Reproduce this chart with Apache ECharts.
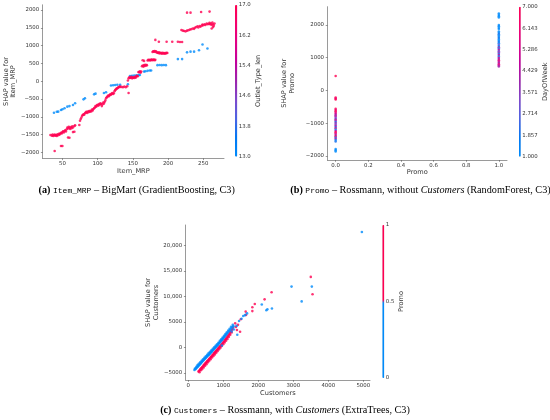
<!DOCTYPE html>
<html>
<head>
<meta charset="utf-8">
<script src="https://cdn.jsdelivr.net/npm/echarts@6/dist/echarts.min.js"></script>
<style>
  html, body { margin: 0; padding: 0; background: #fff; }
  #chart { width: 550px; height: 420px; }
</style>
</head>
<body>
<div id="chart"></div>
<script>
// (a) BigMart: Item_MRP against its SHAP value, coloured by Outlet_Type_len
// Outlet_Type_len = 13 ("Grocery Store")
const mrpGrocery = [
  [38,-885],[42,-860],[44,-855],[48,-810],[50,-790],[53,-760],[57,-715],[60,-700],[65,-670],[68,-620],
  [80,-510],[82,-480],
  [95,-370],[97,-350],[109,-330],[112,-310],
  [119,-120],[122,-115],[125,-105],[128,-100],[132,-100],[143,-85],
  [146,145],[149,150],[152,160],[155,165],[158,170],[160,175],
  [166,270],[168,280],[171,290],[174,300],[176,300],
  [185,450],[188,455],[191,450],[194,455],[197,450],
  [214,620],[220,620],
  [227,810],[232,830],[237,830],[244,870],[249,1030],[256,920]
];
// Outlet_Type_len = 17 ("Supermarket TypeN")
const mrpSupermarket = [
  [33,-1510],[35,-1530],[36,-1500],[37,-1540],[38,-1520],[39,-1500],[40,-1530],[41,-1510],[42,-1540],[43,-1490],
  [44,-1520],[45,-1480],[46,-1500],[47,-1470],[48,-1450],[49,-1470],[50,-1430],[51,-1410],[52,-1440],[53,-1400],
  [54,-1380],[55,-1410],[56,-1350],[57,-1300],[58,-1330],[59,-1280],[60,-1310],[61,-1340],[62,-1290],[63,-1320],
  [64,-1270],[65,-1300],[67,-1260],[68,-1240],
  [39,-1960],[48,-1820],[50,-1820],[58,-1580],[60,-1590],[65,-1430],[67,-1420],
  [74,-1230],[75,-1110],[76,-1060],[77,-1020],[78,-970],[79,-950],[80,-930],[81,-940],[82,-900],[83,-880],
  [84,-860],[85,-890],[86,-850],[87,-870],[88,-840],[89,-860],[90,-830],[91,-850],[92,-800],[93,-820],
  [94,-780],[95,-760],
  [96,-740],[97,-700],[98,-720],[99,-680],[100,-660],[101,-690],[102,-640],[103,-660],[104,-620],[105,-640],
  [106,-700],[107,-650],[108,-600],[109,-630],[110,-580],[111,-540],
  [112,-480],[113,-450],[114,-430],[115,-400],[116,-420],[117,-390],[118,-370],[119,-380],[120,-350],[121,-330],
  [122,-360],[123,-340],[124,-280],[125,-250],[126,-230],[127,-210],[128,-200],[129,-180],[130,-170],[131,-150],
  [132,-160],[134,-160],[136,-170],[138,-150],[140,-170],[142,-140],[144,-330],
  [143,20],[144,80],[145,110],[146,90],[147,100],[148,120],[149,80],[150,100],[151,110],[152,90],
  [153,120],[154,100],[155,130],[156,150],[157,140],[158,260],
  [159,250],[160,280],[161,240],[162,270],[163,420],[164,440],[165,410],[166,450],[167,430],[168,460],
  [169,440],[170,450],[164,590],[166,570],[171,580],[172,600],
  [173,590],[174,600],[175,580],[176,600],[177,610],[178,590],[179,600],[180,610],[181,590],[182,600],
  [178,820],[179,840],[180,830],[181,850],[182,820],[183,840],[184,810],[185,800],[186,790],[187,810],
  [188,780],[189,800],[190,790],[191,770],[192,800],[193,780],[194,790],[195,770],[196,790],[197,780],
  [198,800],[199,790],
  [182,1160],[187,1110],[198,1110],[206,1110],[214,1110],[217,1100],[220,1100],
  [227,1925],[232,1925],[247,1945],[259,1955],
  [219,1440],[221,1420],[223,1410],[225,1400],[227,1420],[229,1430],[231,1450],[233,1460],[235,1480],[237,1470],
  [238,1500],[240,1520],[242,1540],[243,1510],[245,1550],[246,1530],[248,1560],[249,1590],[250,1570],[252,1600],
  [253,1580],[255,1620],[256,1600],[258,1610],[259,1640],[260,1600],[261,1620],[262,1580],[263,1650],[264,1600],
  [265,1560],[262,1480],[264,1520],[266,1620]
];
const mrpTicks = [50, 100, 150, 200, 250];
const mrpShapTicks = [-2000, -1500, -1000, -500, 0, 500, 1000, 1500, 2000];
const outletLenTicks = [13.0, 13.8, 14.6, 15.4, 16.2, 17.0];

// (b) Rossmann without Customers: Promo against its SHAP value, [shap, DayOfWeek]
const promoOff = [
  [440,7],[-220,7],[-250,6],[-280,7],
  [-560,7],[-600,6],[-640,7],[-680,6],[-720,5],[-760,4],[-800,5],[-840,3],[-880,4],[-920,5],
  [-960,2],[-1000,4],[-1040,3],[-1080,5],[-1120,2],[-1160,6],[-1200,1],[-1240,5],[-1280,7],[-1320,6],
  [-1360,4],[-1400,7],[-1440,2],[-1480,5],[-1520,1],[-1560,2],
  [-1790,1],[-1830,1],[-1870,1]
];
const promoOn = [
  [2350,1],[2310,1],[2270,1],[2230,1],[2000,1],[1960,1],[1920,1],[1880,1],
  [1800,1],[1760,1],[1720,2],[1680,1],[1640,1],[1600,2],[1560,1],[1520,1],[1480,2],[1440,1],
  [1400,3],[1360,1],[1320,4],[1280,2],[1240,5],[1200,3],[1160,4],[1120,2],[1080,5],[1040,1],
  [1000,5],[960,4],[920,6],[880,5],[840,4],[800,6],[760,5],[730,4]
];
const promoTicks = [0, 0.2, 0.4, 0.6, 0.8, 1.0];
const promoShapTicks = [-2000, -1000, 0, 1000, 2000];
const dayTicks = [1.000, 1.857, 2.714, 3.571, 4.429, 5.286, 6.143, 7.000];

// (c) Rossmann with Customers: Customers against its SHAP value
// Promo = 0
const custNoPromo = [
  [175,-4450],[200,-4300],[215,-4150],[235,-4050],[250,-3900],[270,-3800],[285,-3650],[300,-3550],
  [320,-3400],[335,-3300],[350,-3150],[370,-3050],[385,-2900],[400,-2800],[420,-2650],[435,-2550],
  [450,-2400],[470,-2300],[485,-2150],[500,-2050],[520,-1900],[535,-1800],[550,-1700],[570,-1550],
  [585,-1450],[600,-1350],[620,-1200],[635,-1100],[650,-950],[670,-850],[685,-700],[700,-600],
  [720,-450],[735,-350],[750,-200],[770,-100],[785,50],[800,150],[820,300],[835,400],
  [850,550],[870,700],[885,850],[900,950],[920,1100],[935,1250],[950,1400],[970,1500],
  [985,1650],[1000,1800],[1020,1950],[1040,2100],[1060,2300],[1080,2450],[1100,2650],[1120,2800],
  [1150,3050],[1170,3250],[1200,3450],[1230,3700],[1260,3950],[1290,4150],
  [190,-4150],[230,-3800],[265,-3500],[300,-3250],[340,-2950],[380,-2650],[420,-2350],[460,-2050],
  [500,-1750],[540,-1450],[580,-1150],[620,-900],[660,-600],[700,-300],[740,0],[780,300],
  [820,600],[860,900],[900,1250],[940,1550],[980,1900],[1020,2250],[1060,2600],[1100,2950],
  [1140,3300],[1180,3650],[1220,4000],[1270,4400],
  [4960,22600],[2950,11900],[3530,11900],[3240,9000],[2100,8400],[2230,7250],[2260,7450],[2390,7600],
  [1620,6300],[1680,6650],[1570,6150],[1520,5600],[1400,2450],[960,350],[1380,4200],[1300,3500],
  [1450,5150],[1240,3100]
];
// Promo = 1
const custPromo = [
  [290,-4750],[310,-4600],[330,-4450],[345,-4300],[360,-4150],[380,-4050],[395,-3900],[410,-3800],
  [430,-3650],[445,-3500],[460,-3400],[480,-3250],[495,-3100],[510,-3000],[530,-2850],[545,-2700],
  [560,-2600],[580,-2450],[595,-2300],[610,-2200],[630,-2050],[645,-1900],[660,-1800],[680,-1650],
  [695,-1500],[710,-1400],[730,-1250],[745,-1100],[760,-1000],[780,-850],[795,-700],[810,-600],
  [830,-450],[845,-300],[860,-200],[880,-50],[895,100],[910,200],[930,350],[945,500],
  [960,650],[980,800],[1000,1000],[1020,1150],[1040,1350],[1060,1550],[1080,1700],[1100,1900],
  [1120,2100],[1140,2300],[1160,2500],[1180,2700],[1200,2950],[1220,3150],[1240,3400],[1260,3600],
  [320,-4900],[360,-4500],[400,-4250],[440,-3950],[480,-3600],[520,-3300],[560,-2950],[600,-2650],
  [640,-2350],[680,-2000],[720,-1700],[760,-1400],[800,-1050],[840,-750],[880,-400],[920,-100],
  [960,250],[1000,600],[1040,950],[1080,1300],[1120,1650],[1160,2050],[1200,2450],[1240,2900],
  [3500,13800],[3550,10400],[2380,10800],[2180,9400],[1900,8500],[1830,7850],[1830,7100],[1640,7000],
  [1650,6350],[1500,5500],[1340,4700],[1480,3050],[1360,4000],[1420,4400],[1280,3900],[1390,3400]
];
const customerTicks = [0, 1000, 2000, 3000, 4000, 5000];
const customerShapTicks = [-5000, 0, 5000, 10000, 15000, 20000];
const promoBarTicks = [0, 0.5, 1];

// shap red_blue colormap, sampled
const redBlue = ['#008bfb', '#0078f3', '#4b63e3', '#7d49cc', '#9c23ac', '#c2009c', '#e00086', '#f5006d', '#ff0051'];
const twoColour = Array.from({ length: 60 }, (_, i) => (i < 30 ? '#008bfb' : '#ff0051'));

const sans = 'DejaVu Sans';
const ink = '#333333';
const spine = '#555555';
const dot = 2.6;

function minus(s) { return String(s).replace('-', '\u2212'); }
function withComma(v) { return minus(Math.abs(v) >= 10000 ? v.toLocaleString('en-US') : v); }

function plotAxis(o) {
  return {
    type: 'value', gridIndex: o.grid, min: o.min, max: o.max,
    name: o.name, nameLocation: 'middle', nameGap: o.nameGap, nameRotate: o.nameRotate,
    nameTextStyle: { fontFamily: sans, fontSize: 6.6, color: ink, lineHeight: 7.2 },
    axisLine: { show: true, onZero: false, lineStyle: { color: spine, width: 0.6 } },
    axisTick: { show: true, length: 1.8, customValues: o.ticks, lineStyle: { color: spine, width: 0.6 } },
    axisLabel: { customValues: o.ticks, formatter: o.fmt, fontFamily: sans, fontSize: 5.4, color: ink, margin: o.margin },
    splitLine: { show: false }
  };
}

function barAxis(o) {
  return {
    type: 'value', gridIndex: o.grid, position: 'right', min: o.min, max: o.max,
    name: o.name, nameLocation: 'middle', nameRotate: 90, nameGap: o.nameGap,
    nameTextStyle: { fontFamily: sans, fontSize: 6.6, color: ink },
    axisLine: { show: false }, axisTick: { show: false }, splitLine: { show: false },
    axisLabel: { customValues: o.ticks, formatter: o.fmt, fontFamily: sans, fontSize: 5.4, color: ink, margin: 1.5 }
  };
}

function hiddenX(grid) {
  return { type: 'value', gridIndex: grid, show: false, min: 0, max: 1 };
}

const grids = [
  { left: 42.7, top: 4.8, width: 181.3, height: 153.5 },
  { left: 327.5, top: 6.7, width: 179.5, height: 153.3 },
  { left: 185.7, top: 225, width: 184.3, height: 155 },
  { left: 235, top: 5, width: 2.3, height: 151.7 },
  { left: 519, top: 6.7, width: 1.8, height: 150 },
  { left: 382.3, top: 225, width: 2, height: 153 }
];

const serif = 'Liberation Serif';
const capSize = 10.2;
const capRich = {
  b: { fontFamily: serif, fontWeight: 'bold', fontSize: capSize, fill: '#000' },
  m: { fontFamily: 'Liberation Mono', fontSize: 8, fill: '#000' },
  i: { fontFamily: serif, fontStyle: 'italic', fontSize: capSize, fill: '#000' }
};
function caption(x, y, text) {
  return {
    type: 'text', x: x, y: y,
    style: { text: text, rich: capRich, fontFamily: serif, fontSize: capSize, fill: '#000', align: 'center', verticalAlign: 'middle' }
  };
}

const chart = echarts.init(document.getElementById('chart'), null, { renderer: 'canvas' });

const option = {
  animation: false,
  backgroundColor: '#fff',
  grid: grids,
  xAxis: [
    plotAxis({ grid: 0, min: 22, max: 279.5, ticks: mrpTicks, fmt: v => String(v), name: 'Item_MRP', nameGap: 9.5, margin: 3 }),
    plotAxis({ grid: 1, min: -0.05, max: 1.05, ticks: promoTicks, fmt: v => v.toFixed(1), name: 'Promo', nameGap: 8.5, margin: 3 }),
    plotAxis({ grid: 2, min: -74, max: 5192, ticks: customerTicks, fmt: v => String(v), name: 'Customers', nameGap: 9.5, margin: 3 }),
    hiddenX(3), hiddenX(4), hiddenX(5)
  ],
  yAxis: [
    plotAxis({ grid: 0, min: -2166, max: 2146, ticks: mrpShapTicks, fmt: v => minus(v), name: 'SHAP value for\nItem_MRP', nameGap: 23, nameRotate: 90, margin: 3.5 }),
    plotAxis({ grid: 1, min: -2128, max: 2560, ticks: promoShapTicks, fmt: v => minus(v), name: 'SHAP value for\nPromo', nameGap: 32, nameRotate: 90, margin: 3.5 }),
    plotAxis({ grid: 2, min: -6412, max: 23980, ticks: customerShapTicks, fmt: withComma, name: 'SHAP value for\nCustomers', nameGap: 20, nameRotate: 90, margin: 3.5 }),
    barAxis({ grid: 3, min: 13, max: 17, ticks: outletLenTicks, fmt: v => v.toFixed(1), name: 'Outlet_Type_len', nameGap: 16 }),
    barAxis({ grid: 4, min: 1, max: 7, ticks: dayTicks, fmt: v => v.toFixed(3), name: 'DayOfWeek', nameGap: 16 }),
    barAxis({ grid: 5, min: 0, max: 1, ticks: promoBarTicks, fmt: v => String(v), name: 'Promo', nameGap: 12 })
  ],
  visualMap: [
    { type: 'continuous', seriesIndex: 0, dimension: 2, min: 13, max: 17, inRange: { color: redBlue },
      left: 235, top: 5, itemWidth: 2.3, itemHeight: 151.7, padding: 0, calculable: false, hoverLink: false },
    { type: 'continuous', seriesIndex: 1, dimension: 2, min: 1, max: 7, inRange: { color: redBlue },
      left: 519, top: 6.7, itemWidth: 1.8, itemHeight: 150, padding: 0, calculable: false, hoverLink: false },
    { type: 'continuous', seriesIndex: 2, dimension: 2, min: 0, max: 1, inRange: { color: twoColour },
      left: 382.3, top: 225, itemWidth: 2, itemHeight: 153, padding: 0, calculable: false, hoverLink: false }
  ],
  series: [
    {
      type: 'scatter', xAxisIndex: 0, yAxisIndex: 0, symbolSize: dot, silent: true,
      data: mrpGrocery.map(p => [p[0], p[1], 13]).concat(mrpSupermarket.map(p => [p[0], p[1], 17]))
    },
    {
      type: 'scatter', xAxisIndex: 1, yAxisIndex: 1, symbolSize: dot, silent: true,
      data: promoOff.map(p => [0, p[0], p[1]]).concat(promoOn.map(p => [1, p[0], p[1]]))
    },
    {
      type: 'scatter', xAxisIndex: 2, yAxisIndex: 2, symbolSize: dot, silent: true,
      data: custPromo.map(p => [p[0], p[1], 1]).concat(custNoPromo.map(p => [p[0], p[1], 0]))
    }
  ],
  graphic: [
    caption(136.7, 190.7, '{b|(a)} {m|Item_MRP} \u2013 BigMart (GradientBoosting, C3)'),
    caption(420.5, 190.7, '{b|(b)} {m|Promo} \u2013 Rossmann, without {i|Customers} (RandomForest, C3)'),
    caption(285, 410.7, '{b|(c)} {m|Customers} \u2013 Rossmann, with {i|Customers} (ExtraTrees, C3)')
  ]
};

chart.setOption(option);
</script>
</body>
</html>
